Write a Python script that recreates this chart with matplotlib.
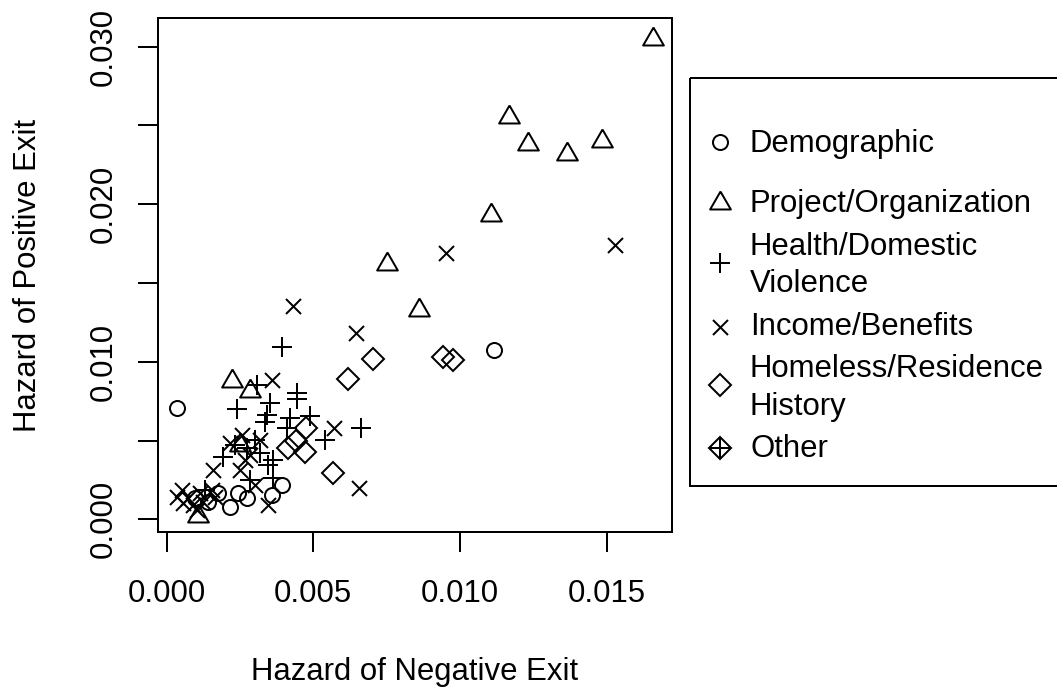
import matplotlib
matplotlib.use("Agg")
import matplotlib.pyplot as plt
from matplotlib.patches import Rectangle

plt.rcParams['font.family'] = ['Liberation Sans', 'DejaVu Sans']

# hazards
demo_x = [0.00036, 0.01116, 0.00216, 0.00244, 0.00273, 0.00358, 0.00392, 0.00142, 0.00176, 0.00097]
demo_y = [0.00705, 0.01075, 0.00080, 0.00165, 0.00133, 0.00154, 0.00218, 0.00112, 0.00165, 0.00136]

proj_x = [0.01660, 0.01167, 0.01231, 0.01366, 0.01484, 0.01105, 0.00750, 0.00861,
          0.00224, 0.00284, 0.00106, 0.00250]
proj_y = [0.03048, 0.02553, 0.02383, 0.02318, 0.02399, 0.01933, 0.01620, 0.01330,
          0.00875, 0.00812, 0.00018, 0.00473]

health_x = [0.00392, 0.00239, 0.00445, 0.00445, 0.00352, 0.00341, 0.00335, 0.00421,
            0.00489, 0.00409, 0.00540, 0.00662, 0.00307, 0.00364, 0.00364, 0.00284,
            0.00193, 0.00347, 0.00318, 0.00273, 0.00301, 0.00233, 0.00131]
health_y = [0.01096, 0.00698, 0.00800, 0.00762, 0.00736, 0.00662, 0.00620, 0.00641,
            0.00656, 0.00578, 0.00503, 0.00581, 0.00853, 0.00376, 0.00260, 0.00249,
            0.00397, 0.00345, 0.00419, 0.00451, 0.00503, 0.00472, 0.00186]

income_x = [0.00952, 0.01529, 0.00645, 0.00571, 0.00657, 0.00432, 0.00358, 0.00159,
            0.00216, 0.00344, 0.00301, 0.00051, 0.00034, 0.00074, 0.00091, 0.00102,
            0.00125, 0.00153, 0.00165, 0.00057, 0.00114, 0.00267, 0.00250, 0.00284,
            0.00257, 0.00318]
income_y = [0.01689, 0.01741, 0.01181, 0.00578, 0.00197, 0.01354, 0.00884, 0.00313,
            0.00482, 0.00091, 0.00218, 0.00186, 0.00143, 0.00133, 0.00091, 0.00059,
            0.00112, 0.00186, 0.00143, 0.00102, 0.00165, 0.00376, 0.00313, 0.00408,
            0.00535, 0.00503]

home_x = [0.00704, 0.00619, 0.00943, 0.00977, 0.00475, 0.00472, 0.00568, 0.00415, 0.00442]
home_y = [0.01016, 0.00891, 0.01032, 0.01011, 0.00578, 0.00429, 0.00296, 0.00451, 0.00497]

labels = ["Demographic", "Project/Organization", "Health/Domestic\nViolence",
          "Income/Benefits", "Homeless/Residence\nHistory", "Other"]

xticks = [0.000, 0.005, 0.010, 0.015]
yticks = [0.000, 0.005, 0.010, 0.015, 0.020, 0.025, 0.030]
ylabs = ["0.000", "", "0.010", "", "0.020", "", "0.030"]

W, H = 1057, 690
fs = 22.4
lw = 1.44
# equilateral triangle like R's pch 2, closed
tri = [(0, 0.577), (-0.5, -0.289), (0.5, -0.289), (0, 0.577)]

styles = [
    dict(marker="o", ms=10.8),
    dict(marker=tri, ms=17.2),
    dict(marker="+", ms=14.9),
    dict(marker="x", ms=10.8),
    dict(marker="D", ms=10.7),
]

fig = plt.figure(figsize=(W / 100, H / 100), dpi=100)
ax = fig.add_axes([157.7 / W, 1 - 531.7 / H, (672.3 - 157.7) / W, (531.7 - 18) / H])

series = [(demo_x, demo_y), (proj_x, proj_y), (health_x, health_y),
          (income_x, income_y), (home_x, home_y)]
for (xs, ys), st in zip(series, styles):
    ax.plot(xs, ys, linestyle="none", color="black", mfc="none", mew=lw, **st)

ax.set_xlim(-0.000307, 0.017244)
ax.set_ylim(-0.000787, 0.031823)
ax.set_xticks(xticks)
ax.set_xticklabels(["%.3f" % v for v in xticks])
ax.set_yticks(yticks)
ax.set_yticklabels(ylabs, rotation=90, va="center")
ax.tick_params(length=14.4, width=lw, labelsize=fs, color="black")
ax.tick_params(axis="x", pad=20)
ax.tick_params(axis="y", pad=14)
for s in ax.spines.values():
    s.set_linewidth(lw)

fig.text(415 / W, 1 - 680 / H, "Hazard of Negative Exit", ha="center", va="baseline", fontsize=fs)
fig.text(28 / W, 1 - 275 / H, "Hazard of Positive Exit", ha="center", va="center",
         rotation=90, fontsize=fs)

# legend drawn by hand in pixel space
lax = fig.add_axes([0, 0, 1, 1])
lax.set_xlim(0, W)
lax.set_ylim(H, 0)
lax.axis("off")
lax.add_patch(Rectangle((690, 78.3), 400, 486 - 78.3, fill=False, lw=lw, ec="black"))

sym_y = [141.7, 203.3, 263.3, 326.7, 385, 448.3]
text_base = [[151.7], [211.7], [255, 291.7], [335], [376.7, 415], [457.3]]
for i, lab in enumerate(labels):
    if i < 5:
        lax.plot([720], [sym_y[i]], linestyle="none", color="black", mfc="none",
                 mew=lw, **styles[i])
    else:
        lax.plot([720], [sym_y[i]], linestyle="none", color="black", mfc="none",
                 mew=lw, marker="D", ms=10.7)
        lax.plot([720], [sym_y[i]], linestyle="none", color="black",
                 mew=lw, marker="+", ms=14.9)
    for line, yb in zip(lab.split("\n"), text_base[i]):
        lax.text(750, yb, line, ha="left", va="baseline", fontsize=fs)

fig.savefig("out.png", dpi=100)
